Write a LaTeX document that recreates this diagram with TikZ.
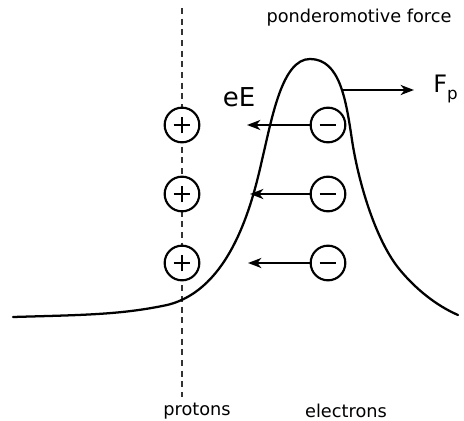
\documentclass[tikz,border=0pt]{standalone}
\usepackage{fontspec}
\setmainfont{DejaVu Sans}
\usetikzlibrary{arrows.meta}
\begin{document}
\begin{tikzpicture}[x=0.75pt,y=-0.75pt,
  charge/.style={circle,draw,line width=1.6pt,fill=white,minimum size=26pt,inner sep=0pt},
  sign/.style={line width=1.5pt},
  force/.style={line width=1.7pt,-{Stealth[length=10pt,width=7.5pt,inset=3pt]}},
  lbl/.style={inner sep=0pt,font=\fontsize{13.3}{15}\selectfont}]
\useasboundingbox (0,0) rectangle (464,421);
% dashed proton line
\coordinate (dtop) at (182,8);
\coordinate (dbot) at (182,397);
\draw[black!80,line width=1.2pt,dash pattern=on 4.5pt off 3.5pt] (dtop) -- (dbot);
% curve
\draw[line width=1.7pt,line cap=round]
  (13,317) .. controls (80,315) and (120,315) .. (167,305)
  .. controls (230,290) and (252,205) .. (262,160)
  .. controls (272,118) and (282,59) .. (310,59)
  .. controls (340,59) and (346,100) .. (352,140)
  .. controls (358,180) and (375,240) .. (400,270)
  .. controls (415,288) and (435,305) .. (458,315);
% charges
\foreach \i/\y in {1/125,2/194,3/263}{
  \node[charge] (p\i) at (182,\y) {};
  \draw[sign] ([xshift=-6.3pt]p\i.center) -- ([xshift=6.3pt]p\i.center);
  \draw[sign] ([yshift=-6.3pt]p\i.center) -- ([yshift=6.3pt]p\i.center);
  \node[charge] (e\i) at (328,\y) {};
  \draw[sign] ([xshift=-6.3pt]e\i.center) -- ([xshift=6.3pt]e\i.center);
}
\coordinate (t1) at (247,125);
\coordinate (t2) at (250,194);
\coordinate (t3) at (248,263);
\foreach \i in {1,2,3}{\draw[force] (e\i.west) -- (t\i);}
\coordinate (fs) at (343,90);
\coordinate (fe) at (414,90);
\draw[force] (fs) -- (fe);
% labels
\node[lbl] (pf) at (359,18) {ponderomotive force};
\node[inner sep=0pt,font=\fontsize{19.5}{21}\selectfont] (eE) at (239,97) {eE};
\node[inner sep=0pt,font=\fontsize{18}{20}\selectfont,anchor=west] (Fp) at (433,89) {F\raisebox{-0.3em}{\fontsize{12.5}{13}\selectfont p}};
\node[lbl] (prot) at (197,411) {protons};
\node[lbl] (elec) at (346,411) {electrons};
\end{tikzpicture}
\end{document}
